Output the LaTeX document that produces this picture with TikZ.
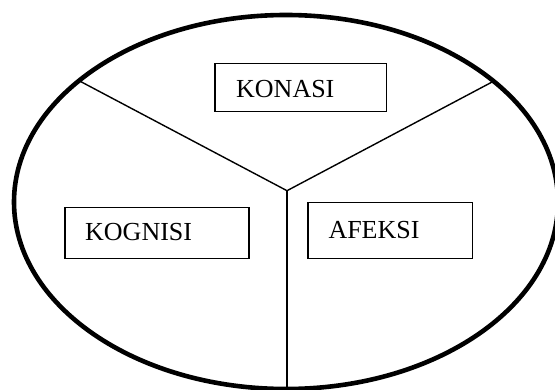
\documentclass[tikz,border=0pt]{standalone}
\usepackage{fontspec}
\setmainfont{Liberation Serif}
\usetikzlibrary{shapes.geometric}
\begin{document}
\begin{tikzpicture}[x=1pt,y=-1pt,
  box/.style={draw=black,line width=1.2pt,minimum width=#1,minimum height=48pt,inner sep=0pt,anchor=north west},
  lbl/.style={anchor=base west,inner sep=0pt,font=\fontsize{26}{30}\selectfont},
  divider/.style={line width=1.4pt},
  rim/.style={draw=black,line width=4.6pt,ellipse,inner sep=0pt}]
\useasboundingbox (0,0) rectangle (555,390);
\clip (0,0) rectangle (555,390);
\fill[white] (0,0) rectangle (555,390);
% outer ellipse
\node[rim,minimum width=544pt,minimum height=374pt] (oval) at (286,202) {};
% dividers
\coordinate (mid) at (287,190.7);
\coordinate (lend) at (79.6,81);
\coordinate (rend) at (494,81);
\coordinate (bend) at (287,389);
\draw[divider] (lend) -- (mid) -- (rend);
\draw[divider] (mid) -- (bend);
% boxes
\node[box=171.5pt,minimum height=47.4pt] (konasibox) at (214.3,63.3) {};
\node[lbl] (konasi) at (236,97.3) {KONASI};
\node[box=184pt,minimum height=51.6pt] (kognisibox) at (64.3,206.7) {};
\node[lbl] (kognisi) at (85,241) {KOGNISI};
\node[box=164.2pt,minimum height=56pt] (afeksibox) at (307.3,202.3) {};
\node[lbl] (afeksi) at (328.3,238.3) {AFEKSI};
\end{tikzpicture}
\end{document}
